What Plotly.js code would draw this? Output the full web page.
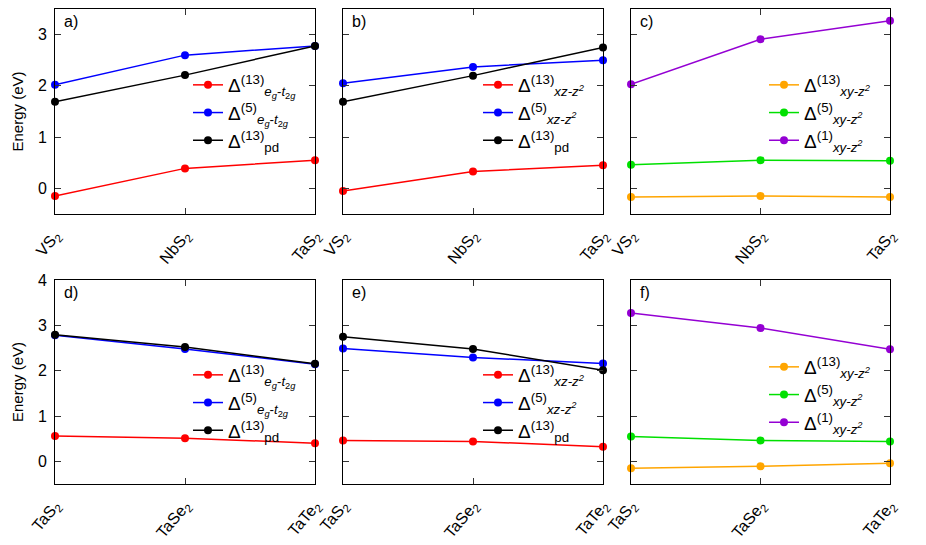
<!DOCTYPE html>
<html>
<head>
<meta charset="utf-8">
<script src="https://cdn.plot.ly/plotly-3.0.1.min.js"></script>
<style>
  html, body { margin: 0; padding: 0; background: #fff; }
  #chart { width: 926px; height: 545px; }
</style>
</head>
<body>
<div id="chart"></div>
<script>
// categories
let topCats = ["VS<sub>2</sub>", "NbS<sub>2</sub>", "TaS<sub>2</sub>"];
let botCats = ["TaS<sub>2</sub>", "TaSe<sub>2</sub>", "TaTe<sub>2</sub>"];

// values (eV)
let aEg13 = [-0.15, 0.39, 0.55];
let aEg5 = [2.02, 2.60, 2.78];
let aPd13 = [1.69, 2.21, 2.78];
let bXz13 = [-0.05, 0.33, 0.45];
let bXz5 = [2.05, 2.37, 2.50];
let bPd13 = [1.69, 2.20, 2.75];
let cXy13 = [-0.17, -0.15, -0.17];
let cXy5 = [0.46, 0.55, 0.54];
let cXy1 = [2.03, 2.91, 3.27];
let dEg13 = [0.56, 0.51, 0.40];
let dEg5 = [2.78, 2.48, 2.14];
let dPd13 = [2.79, 2.52, 2.15];
let eXz13 = [0.46, 0.44, 0.32];
let eXz5 = [2.49, 2.29, 2.16];
let ePd13 = [2.75, 2.48, 2.01];
let fXy13 = [-0.15, -0.11, -0.04];
let fXy5 = [0.55, 0.46, 0.44];
let fXy1 = [3.27, 2.94, 2.47];

// legend labels
let egLab = (n) => "Δ<sup>(" + n + ")</sup><sub><i>e<sub>g</sub></i>-<i>t</i><sub>2<i>g</i></sub></sub>";
let xzLab = (n) => "Δ<sup>(" + n + ")</sup><sub><i>xz-z<sup>2</sup></i></sub>";
let xyLab = (n) => "Δ<sup>(" + n + ")</sup><sub><i>xy-z<sup>2</sup></i></sub>";
let pdLab = "Δ<sup>(13)</sup><sub>pd</sub>";

let RED = "#ff0000", BLUE = "#0000ff", BLACK = "#000000";
let PURPLE = "#9400d3", GREEN = "#00e000", ORANGE = "#ffa500";

function line(x, y, color, name, n) {
  let sfx = n === 1 ? "" : String(n);
  return {
    x: x, y: y, name: name,
    type: "scatter", mode: "lines+markers",
    line: { color: color, width: 1.5 },
    marker: { color: color, size: 8 },
    cliponaxis: false,
    xaxis: "x" + sfx, yaxis: "y" + sfx,
    legend: "legend" + sfx,
  };
}

let data = [
  line(topCats, aEg13, RED, egLab(13), 1),
  line(topCats, aEg5, BLUE, egLab(5), 1),
  line(topCats, aPd13, BLACK, pdLab, 1),
  line(topCats, bXz13, RED, xzLab(13), 2),
  line(topCats, bXz5, BLUE, xzLab(5), 2),
  line(topCats, bPd13, BLACK, pdLab, 2),
  line(topCats, cXy13, ORANGE, xyLab(13), 3),
  line(topCats, cXy5, GREEN, xyLab(5), 3),
  line(topCats, cXy1, PURPLE, xyLab(1), 3),
  line(botCats, dEg13, RED, egLab(13), 4),
  line(botCats, dEg5, BLUE, egLab(5), 4),
  line(botCats, dPd13, BLACK, pdLab, 4),
  line(botCats, eXz13, RED, xzLab(13), 5),
  line(botCats, eXz5, BLUE, xzLab(5), 5),
  line(botCats, ePd13, BLACK, pdLab, 5),
  line(botCats, fXy13, ORANGE, xyLab(13), 6),
  line(botCats, fXy5, GREEN, xyLab(5), 6),
  line(botCats, fXy1, PURPLE, xyLab(1), 6),
];

let W = 926, H = 545;
let cols = [[55, 315], [343, 603], [631, 890]];
let rows = [[9, 214], [280, 484]];

let layout = {
  width: W, height: H,
  margin: { l: 0, r: 0, t: 0, b: 0 },
  paper_bgcolor: "#fff", plot_bgcolor: "#fff",
  font: { family: "Liberation Sans, Arial, sans-serif", size: 15, color: "#000" },
  annotations: [],
};

let tags = ["a)", "b)", "c)", "d)", "e)", "f)"];
let legendRight = [302, 590, 876];
let legendTop = [[66, 66], [356, 348]];

for (let i = 0; i < 6; i++) {
  let r = Math.floor(i / 3), c = i % 3;
  let sfx = i === 0 ? "" : String(i + 1);
  let xd = [cols[c][0] / W, cols[c][1] / W];
  let yd = [1 - rows[r][1] / H, 1 - rows[r][0] / H];
  layout["xaxis" + sfx] = {
    domain: xd, anchor: "y" + sfx,
    type: "category", range: [0, 2],
    showline: true, linecolor: "#000", linewidth: 1, mirror: "ticks",
    ticks: "inside", ticklen: 6, tickcolor: "#333",
    showgrid: false, zeroline: false,
    tickangle: -50, tickfont: { size: 16 },
    ticklabelstandoff: 5,
    fixedrange: true,
  };
  layout["yaxis" + sfx] = {
    domain: yd, anchor: "x" + sfx,
    range: r === 0 ? [-0.5, 3.5] : [-0.5, 4],
    dtick: 1,
    showline: true, linecolor: "#000", linewidth: 1, mirror: "ticks",
    ticks: "inside", ticklen: 6, tickcolor: "#333",
    showgrid: false, zeroline: false,
    showticklabels: c === 0,
    tickfont: { size: 16 },
    ticklabelstandoff: 4,
    title: c === 0 ? { text: "Energy (eV)", font: { size: 15 }, standoff: 10 } : undefined,
    fixedrange: true,
  };
  layout["legend" + sfx] = {
    x: legendRight[c] / W, xanchor: "right",
    y: 1 - legendTop[r][c === 2 ? 1 : 0] / H, yanchor: "top",
    bgcolor: "rgba(0,0,0,0)",
    font: { size: 19 },
    itemwidth: 30,
    tracegroupgap: 0,
  };
  layout.annotations.push({
    text: tags[i], showarrow: false,
    xref: "paper", yref: "paper",
    x: (cols[c][0] + 7) / W, y: 1 - (rows[r][0] + 2) / H,
    xanchor: "left", yanchor: "top",
    font: { size: 16 },
  });
}

Plotly.newPlot("chart", data, layout, { displayModeBar: false, staticPlot: true });
</script>
</body>
</html>
